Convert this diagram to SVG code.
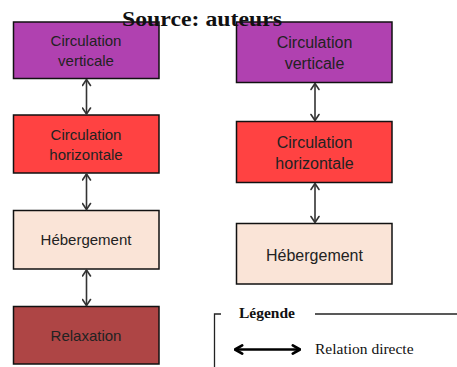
<svg xmlns="http://www.w3.org/2000/svg" width="457" height="367" viewBox="0 0 457 367">
<defs>
<style>
.box{stroke:#111;stroke-width:1.5}
.lbl{font-family:"Liberation Sans",Arial,sans-serif;fill:#222;text-anchor:middle}
.conn{stroke:#333;stroke-width:1.6;fill:none}
.head{stroke:#333;stroke-width:1.6;fill:none;stroke-linecap:round;stroke-linejoin:round}
.serif{font-family:"Liberation Serif","Times New Roman",serif;fill:#111}
</style>
<marker id="ah" viewBox="0 0 10 10" refX="9" refY="5" markerWidth="10" markerHeight="10" markerUnits="userSpaceOnUse" orient="auto-start-reverse">
<path d="M3,1 L9,5 L3,9" class="head"/>
</marker>
<marker id="ahL" viewBox="0 0 10 10" refX="9" refY="5" markerWidth="12" markerHeight="14" markerUnits="userSpaceOnUse" orient="auto-start-reverse">
<path d="M3,1.5 L9,5 L3,8.5" fill="none" stroke="#000" stroke-width="2.2" stroke-linecap="round" stroke-linejoin="round"/>
</marker>
</defs>
<rect width="457" height="367" fill="#fff"/>

<g id="L1"><rect class="box" x="13.5" y="22" width="145.5" height="56.5" fill="#B041B0"/>
<text class="lbl" x="86" y="45.5" font-size="15">Circulation</text>
<text class="lbl" x="86" y="66" font-size="15">verticale</text></g>
<g id="L2"><rect class="box" x="13.5" y="115" width="145.5" height="58" fill="#FF4242"/>
<text class="lbl" x="86" y="140" font-size="15">Circulation</text>
<text class="lbl" x="86" y="160" font-size="15">horizontale</text></g>
<g id="L3"><rect class="box" x="13.5" y="210.5" width="145.5" height="58.5" fill="#FAE4D7"/>
<text class="lbl" x="86" y="245" font-size="15">Hébergement</text></g>
<g id="L4"><rect class="box" x="13.5" y="306.5" width="145.5" height="57.5" fill="#AE4545"/>
<text class="lbl" x="86" y="341" font-size="15">Relaxation</text></g>

<g id="R1"><rect class="box" x="236.5" y="22" width="155.5" height="60.5" fill="#B041B0"/>
<text class="lbl" x="314.5" y="48" font-size="16">Circulation</text>
<text class="lbl" x="314.5" y="69" font-size="16">verticale</text></g>
<g id="R2"><rect class="box" x="236.5" y="121.5" width="155.5" height="61" fill="#FF4242"/>
<text class="lbl" x="314.5" y="147.5" font-size="16">Circulation</text>
<text class="lbl" x="314.5" y="169" font-size="16">horizontale</text></g>
<g id="R3"><rect class="box" x="236.5" y="223.5" width="155.5" height="60.5" fill="#FAE4D7"/>
<text class="lbl" x="314.5" y="260.5" font-size="16">Hébergement</text></g>

<g id="connectors">
<line class="conn" x1="86.5" y1="79.5" x2="86.5" y2="114" marker-start="url(#ah)" marker-end="url(#ah)"/>
<line class="conn" x1="86.5" y1="174" x2="86.5" y2="209.5" marker-start="url(#ah)" marker-end="url(#ah)"/>
<line class="conn" x1="86.5" y1="270" x2="86.5" y2="305.5" marker-start="url(#ah)" marker-end="url(#ah)"/>
<line class="conn" x1="315" y1="83.5" x2="315" y2="120.5" marker-start="url(#ah)" marker-end="url(#ah)"/>
<line class="conn" x1="315" y1="183.5" x2="315" y2="222.5" marker-start="url(#ah)" marker-end="url(#ah)"/>
</g>

<text class="serif" x="122" y="25.5" font-size="21" font-weight="bold" textLength="160" lengthAdjust="spacingAndGlyphs">Source: auteurs</text>

<g id="legend">
<path d="M221,314 H214.5 V367" fill="none" stroke="#222" stroke-width="1.3"/>
<line x1="315" y1="314" x2="457" y2="314" stroke="#222" stroke-width="1.3"/>
<text class="serif" x="239" y="317.5" font-size="15.5" font-weight="bold">Légende</text>
<line x1="235" y1="349.5" x2="300" y2="349.5" stroke="#000" stroke-width="2.6" marker-start="url(#ahL)" marker-end="url(#ahL)"/>
<text class="serif" x="315" y="354" font-size="15.5">Relation directe</text>
</g>
</svg>
